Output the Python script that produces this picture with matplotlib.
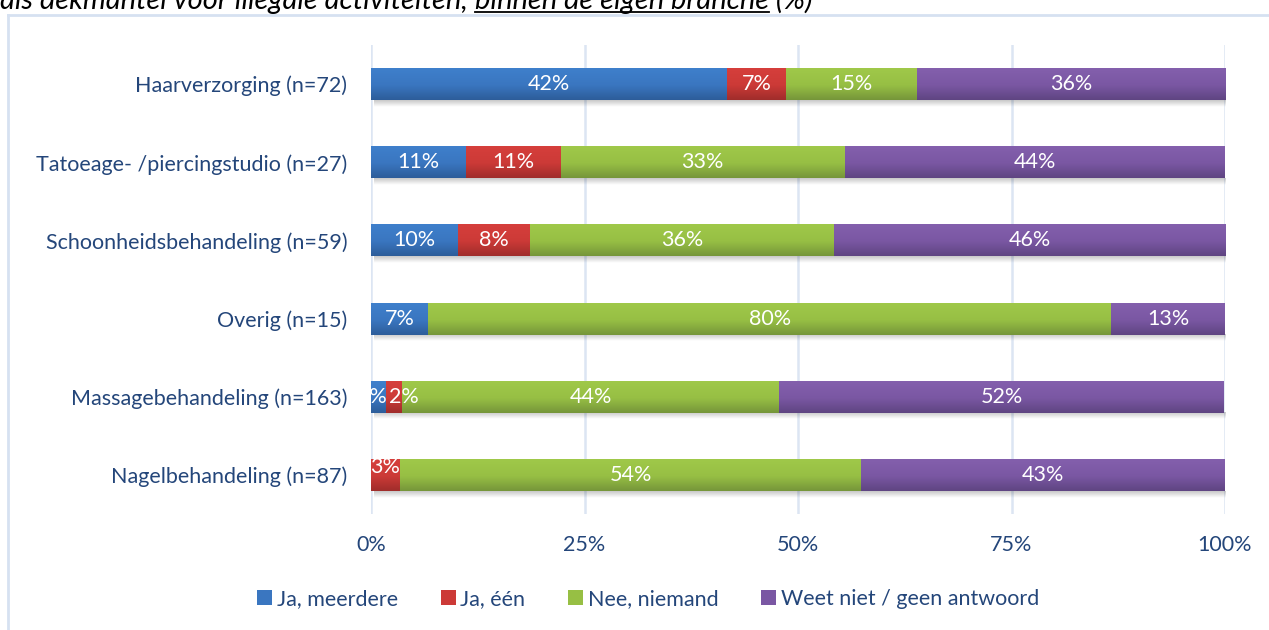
import numpy as np
import matplotlib
matplotlib.use("Agg")
import matplotlib.pyplot as plt
from matplotlib.patches import Patch
from matplotlib.lines import Line2D
import matplotlib.colors as mcolors

categories = ["Haarverzorging (n=72)", "Tatoeage- /piercingstudio (n=27)",
              "Schoonheidsbehandeling (n=59)", "Overig (n=15)",
              "Massagebehandeling (n=163)", "Nagelbehandeling (n=87)"]
series_names = ["Ja, meerdere", "Ja, één", "Nee, niemand", "Weet niet / geen antwoord"]
ja_meerdere = [41.7, 11.1, 10.2, 6.7, 1.8, 0.0]
ja_een      = [6.9, 11.1, 8.4, 0.0, 1.8, 3.4]
nee_niemand = [15.3, 33.3, 35.6, 80.0, 44.2, 54.0]
weet_niet   = [36.1, 44.4, 45.8, 13.3, 52.1, 42.6]
xticks = [0, 25, 50, 75, 100]
xtick_labels = ["0%", "25%", "50%", "75%", "100%"]
title_parts = ["als dekmantel voor illegale activiteiten, ", "binnen de eigen branche", " (%)"]

series = [ja_meerdere, ja_een, nee_niemand, weet_niet]
top_colors = ["#3f80cc", "#d63f3c", "#a0c94a", "#8460ad"]
mid_colors = ["#3a76c0", "#cc3a37", "#97bf44", "#7a57a3"]
bot_colors = ["#2d5d9a", "#a02d2b", "#76963a", "#5f4582"]

FONT = "Lato"
TXT = "#24467a"
FS = 15.5

W, H = 1269, 630
fig = plt.figure(figsize=(W / 100, H / 100), dpi=100)
fig.patch.set_facecolor("white")

ax_l, ax_r, ax_t, ax_b = 371, 1225, 45, 514
ax = fig.add_axes([ax_l / W, 1 - ax_b / H, (ax_r - ax_l) / W, (ax_b - ax_t) / H])

y = np.arange(len(categories))
bar_h = 0.41
left = np.zeros(len(categories))
for si, vals in enumerate(series):
    vals = np.array(vals)
    bars = ax.barh(y, vals, left=left, height=bar_h, color=mid_colors[si], zorder=3, linewidth=0)
    cmap = mcolors.LinearSegmentedColormap.from_list(
        "g%d" % si, [(0, top_colors[si]), (0.55, mid_colors[si]), (1, bot_colors[si])])
    grad = np.linspace(0, 1, 64).reshape(-1, 1)
    for b in bars:
        if b.get_width() <= 0:
            continue
        x0, y0 = b.get_x(), b.get_y()
        im = ax.imshow(grad, cmap=cmap, aspect="auto", interpolation="bilinear",
                       extent=[x0, x0 + b.get_width(), y0 + b.get_height(), y0],
                       zorder=3.5)
        im.set_clip_path(b)
    for i, (v, l) in enumerate(zip(vals, left)):
        if v <= 0:
            continue
        tx, ty, ha = l + v / 2, y[i], "center"
        if si == 0 and i == 4:
            tx, ha = l + v, "right"
        if si == 1 and i == 4:
            tx = l + v + 0.3
        if si == 1 and i == 5:
            ty = y[i] - 0.1
        ax.text(tx, ty, "%d%%" % int(v + 0.5), ha=ha, va="center",
                color="white", fontsize=FS, family=FONT, zorder=5, clip_on=True)
    left = left + vals

# soft shadow under bars
sh = np.zeros((32, 1, 4))
sh[..., 3] = np.linspace(0.22, 0.0, 32).reshape(-1, 1)
for i, tot in enumerate(left):
    yb = y[i] + bar_h / 2
    ax.imshow(sh, aspect="auto", interpolation="bilinear",
              extent=[0.3, tot + 0.2, yb + 0.085, yb], zorder=2.5)

ax.set_xlim(0, 100)
ax.set_ylim(len(categories) - 0.5, -0.5)
ax.set_yticks(y)
ax.set_yticklabels(categories, fontsize=FS, color=TXT, family=FONT)
ax.set_xticks(xticks)
ax.set_xticklabels(xtick_labels, fontsize=FS, color=TXT, family=FONT)
ax.tick_params(axis="y", length=0, pad=17)
ax.tick_params(axis="x", length=0, pad=15)
for s in ax.spines.values():
    s.set_visible(False)
ax.grid(axis="x", color="#dce5f3", linewidth=1.8, zorder=0)
ax.set_axisbelow(True)

handles = [Patch(facecolor=mid_colors[i], edgecolor="none", label=series_names[i]) for i in range(4)]
leg = fig.legend(handles=handles, loc="center", bbox_to_anchor=(648 / W, 1 - 599 / H),
                 ncol=4, frameon=False, handlelength=0.7, handleheight=0.7,
                 handletextpad=0.2, columnspacing=2.0,
                 prop={"family": FONT, "size": FS})
for t in leg.get_texts():
    t.set_color(TXT)

# chart frame
fig.add_artist(Line2D([8 / W, 1], [1 - 15 / H, 1 - 15 / H], transform=fig.transFigure,
                      color="#d6e1f1", linewidth=2))
fig.add_artist(Line2D([8 / W, 8 / W], [0, 1 - 15 / H], transform=fig.transFigure,
                      color="#d6e1f1", linewidth=2))

# cut-off title with underlined part
fig.canvas.draw()
renderer = fig.canvas.get_renderer()
xpos = 0.0 / W
base_y = 1 - 8.5 / H
for k, part in enumerate(title_parts):
    t = fig.text(xpos, base_y, part, fontsize=21, style="italic", family=FONT,
                 color="black", ha="left", va="baseline")
    bb = t.get_window_extent(renderer=renderer)
    if k == 1:
        fig.add_artist(Line2D([bb.x0 / W, bb.x1 / W], [1 - 12 / H, 1 - 12 / H],
                              transform=fig.transFigure, color="black", linewidth=1.3))
    xpos = bb.x1 / W

fig.savefig("out.png", dpi=100)
